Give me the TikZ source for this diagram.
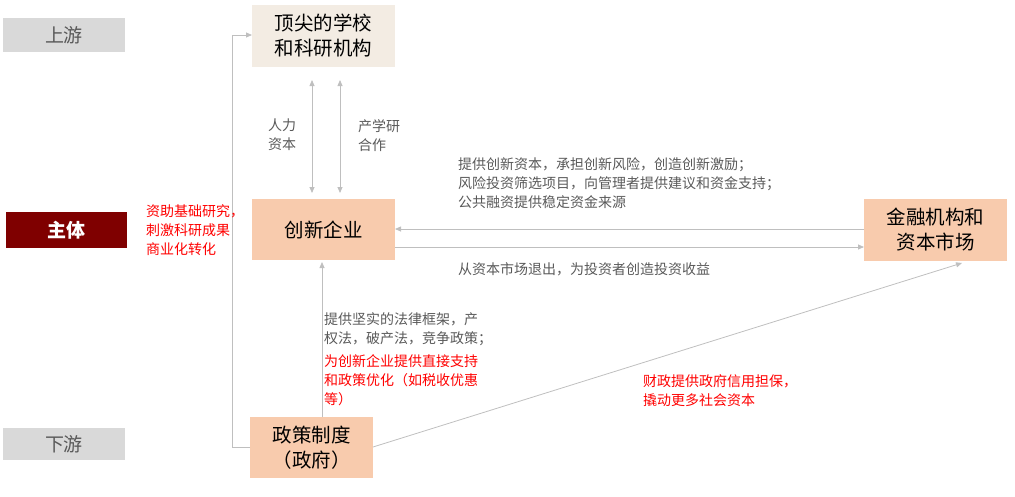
\documentclass[tikz,border=0pt]{standalone}
\usepackage{fontspec}
\setmainfont{Noto Sans CJK SC}
\usetikzlibrary{arrows.meta}
\definecolor{tanfill}{HTML}{F8CBAD}
\definecolor{topfill}{HTML}{F3ECE3}
\definecolor{lg}{HTML}{D9D9D9}
\definecolor{dred}{HTML}{7F0000}
\definecolor{txtg}{HTML}{595959}
\definecolor{ln}{HTML}{BFBFBF}
\begin{document}
\begin{tikzpicture}[x=1pt,y=-1pt,
  box/.style={draw=none,inner sep=0pt,align=center,font=\fontsize{19.5}{25}\selectfont},
  lbl/.style={font=\fontsize{14}{19}\selectfont,text=txtg,align=left,inner sep=0pt,anchor=north west},
  rlbl/.style={lbl,text=red},
  con/.style={draw=ln,line width=0.8pt,-{Triangle[length=6pt,width=5pt]}},
  dcon/.style={draw=ln,line width=0.8pt,{Triangle[length=6pt,width=5pt]}-{Triangle[length=6pt,width=5pt]}}]
\useasboundingbox (0,0) rectangle (1015,496);
\fill[lg] (3,18) rectangle (125,52); \node[text=txtg,font=\fontsize{19}{22}\selectfont] (up) at (64,35) {上游};
\fill[dred] (6,212) rectangle (127,248); \node[text=white,font=\fontsize{19}{22}\selectfont\bfseries] (zt) at (66,230) {主体};
\fill[lg] (3,428) rectangle (125,460); \node[text=txtg,font=\fontsize{19}{22}\selectfont] (dn) at (64,444) {下游};
\fill[topfill] (252,5) rectangle (395,67); \node[box] (top) at (323.5,36) {顶尖的学校\\和科研机构};
\fill[tanfill] (252,199) rectangle (395,260); \node[box] (cx) at (323.5,229.5) {创新企业};
\fill[tanfill] (864,199) rectangle (1007,261); \node[box] (jr) at (935.5,230) {金融机构和\\资本市场};
\fill[tanfill] (250,417) rectangle (373,478); \node[box] (zc) at (311.5,447.5) {政策制度\\（政府）};
\coordinate (topW) at (252,35);
\coordinate (zcW) at (250,447);
\draw[con] (zcW) -- (232,447) -- (232,35) -- (topW);
\draw[dcon] (312,80) -- (312,193);
\draw[dcon] (340,80) -- (340,193);
\draw[con] (864,229) -- (395,229);
\draw[con] (395,247) -- (864,247);
\draw[con] (322,417) -- (322,262);
\draw[con] (373,447) -- (962,263);
\node[lbl] (l1) at (268,119) {人力\\资本};
\node[lbl] (l2) at (358,119) {产学研\\合作};
\node[lbl] (l3) at (458,157) {提供创新资本，承担创新风险，创造创新激励；\\风险投资筛选项目，向管理者提供建议和资金支持；\\公共融资提供稳定资金来源};
\node[lbl] (l4) at (458,262) {从资本市场退出，为投资者创造投资收益};
\node[lbl] (l5) at (324,312) {提供坚实的法律框架，产\\权法，破产法，竞争政策；};
\node[rlbl] (l6) at (324,354) {为创新企业提供直接支持\\和政策优化（如税收优惠\\等）};
\node[rlbl] (l7) at (643,374) {财政提供政府信用担保，\\撬动更多社会资本};
\node[rlbl] (l8) at (146,204) {资助基础研究，\\刺激科研成果\\商业化转化};
\end{tikzpicture}
\end{document}
